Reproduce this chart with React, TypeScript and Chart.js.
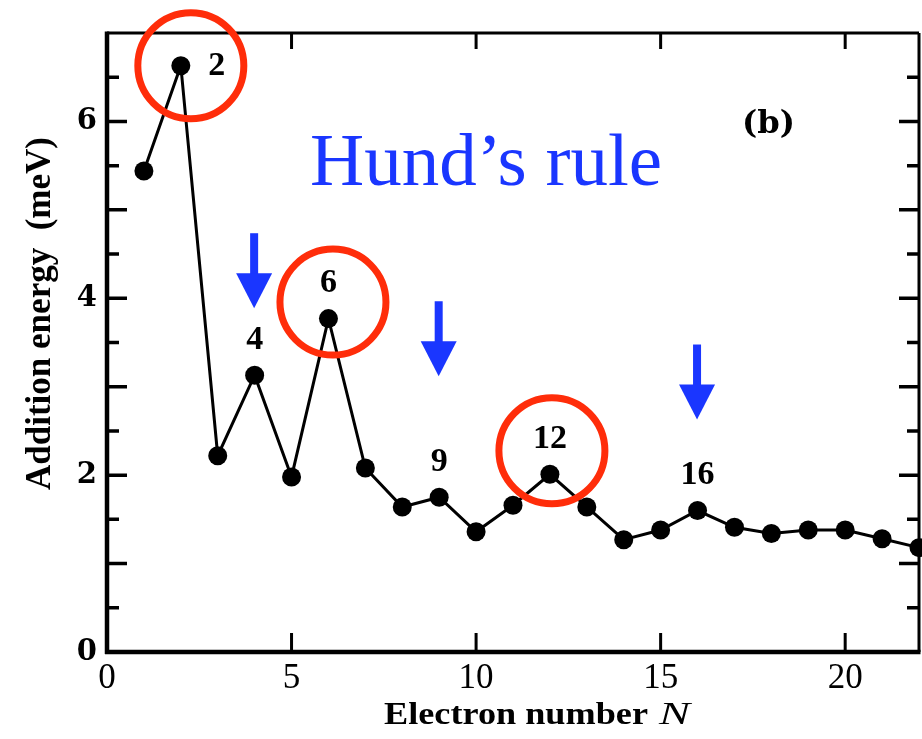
import React, { useEffect, useRef } from "react";
import { Chart, registerables } from "chart.js";

Chart.register(...registerables);

// ---- data ----
const electronNumbers = [1, 2, 3, 4, 5, 6, 7, 8, 9, 10, 11, 12, 13, 14, 15, 16, 17, 18, 19, 20, 21, 22];
const additionEnergy = [5.44, 6.63, 2.22, 3.13, 1.98, 3.77, 2.08, 1.64, 1.75, 1.36, 1.66, 2.01, 1.64, 1.27, 1.38, 1.6, 1.41, 1.34, 1.38, 1.38, 1.28, 1.18];
const xTickValues = [0, 5, 10, 15, 20];
const yTickValues = [0, 2, 4, 6];
const yMinorTickValues = [0.5, 1, 1.5, 2, 2.5, 3, 3.5, 4, 4.5, 5, 5.5, 6, 6.5];
const peakLabels = [2, 4, 6, 9, 12, 16];
const circledPeaks = [2, 6, 12];
const hundArrows = [4, 9, 16];

const xTitle = "Electron number";
const xTitleSymbol = "N";
const yTitle = "Addition energy  (meV)";
const annotationText = "Hund\u2019s rule";
const panelLabel = "(b)";

// ---- styles (pixel offsets / sizes) ----
const circleOffsets: Record<number, { dx: number; dy: number }> = {
  2: { dx: 10, dy: 0 },
  6: { dx: 4.5, dy: -16.5 },
  12: { dx: 2, dy: -23.5 },
};
const arrowTipOffsets: Record<number, number> = { 4: -67, 9: -121, 16: -91 };
const BLUE = "#1a36ff";
const RED = "#ff2d0a";

function fitText(
  ctx: CanvasRenderingContext2D,
  text: string,
  x: number,
  y: number,
  font: string,
  width: number,
  color: string
) {
  ctx.save();
  ctx.font = font;
  const w = ctx.measureText(text).width;
  ctx.translate(x, y);
  ctx.scale(width / w, 1);
  ctx.textAlign = "left";
  ctx.textBaseline = "alphabetic";
  ctx.fillStyle = color;
  ctx.fillText(text, 0, 0);
  ctx.restore();
}

const overlayPlugin = {
  id: "overlay",
  afterDatasetsDraw(chart: any) {
    const ctx: CanvasRenderingContext2D = chart.ctx;
    const ca = chart.chartArea;
    const xs = chart.scales.x;
    const ys = chart.scales.y;
    const meta = chart.getDatasetMeta(0);
    const pt = (n: number) => {
      const i = electronNumbers.indexOf(n);
      const el = meta.data[i];
      return { x: el.x, y: el.y };
    };

    ctx.save();
    ctx.strokeStyle = "#000";
    ctx.lineCap = "butt";

    // frame
    ctx.lineWidth = 3;
    ctx.beginPath();
    ctx.moveTo(ca.left, ca.top);
    ctx.lineTo(ca.right, ca.top);
    ctx.moveTo(ca.right, ca.top);
    ctx.lineTo(ca.right, ca.bottom);
    ctx.stroke();
    ctx.lineWidth = 4.5;
    ctx.beginPath();
    ctx.moveTo(ca.left, ca.top - 1.5);
    ctx.lineTo(ca.left, ca.bottom + 2);
    ctx.moveTo(ca.left - 2, ca.bottom);
    ctx.lineTo(ca.right + 1.5, ca.bottom);
    ctx.stroke();

    // y ticks (inward, both sides)
    ctx.lineWidth = 3.5;
    ctx.beginPath();
    yMinorTickValues.forEach((v) => {
      const py = ys.getPixelForValue(v);
      const len = Number.isInteger(v) ? 20 : 12;
      ctx.moveTo(ca.left, py);
      ctx.lineTo(ca.left + len, py);
      ctx.moveTo(ca.right, py);
      ctx.lineTo(ca.right - len, py);
    });
    ctx.stroke();

    // x ticks (inward, bottom and top)
    ctx.lineWidth = 3;
    ctx.beginPath();
    xTickValues.forEach((v) => {
      if (v === 0) return;
      const px = xs.getPixelForValue(v);
      ctx.moveTo(px, ca.bottom);
      ctx.lineTo(px, ca.bottom - 19);
      ctx.moveTo(px, ca.top);
      ctx.lineTo(px, ca.top + 16);
    });
    ctx.stroke();

    // peak labels
    ctx.fillStyle = "#000";
    ctx.font = "bold 34px 'Liberation Serif'";
    ctx.textBaseline = "middle";
    ctx.textAlign = "center";
    peakLabels.forEach((n, k) => {
      const p = pt(n);
      if (k === 0) {
        ctx.fillText(String(n), p.x + 36, p.y + 1);
      } else {
        ctx.fillText(String(n), p.x, p.y - 35);
      }
    });

    // red circles
    ctx.strokeStyle = RED;
    ctx.lineWidth = 7;
    circledPeaks.forEach((n) => {
      const p = pt(n);
      const o = circleOffsets[n];
      ctx.beginPath();
      ctx.arc(p.x + o.dx, p.y + o.dy, 53, 0, Math.PI * 2);
      ctx.stroke();
    });

    // blue arrows
    ctx.fillStyle = BLUE;
    hundArrows.forEach((n) => {
      const p = pt(n);
      const tipY = p.y + arrowTipOffsets[n];
      const x0 = p.x - 0.5;
      ctx.fillRect(x0 - 4, tipY - 75, 8, 41);
      ctx.beginPath();
      ctx.moveTo(x0 - 18, tipY - 35);
      ctx.lineTo(x0 + 18, tipY - 35);
      ctx.lineTo(x0, tipY);
      ctx.closePath();
      ctx.fill();
    });

    // Hund's rule text
    fitText(ctx, annotationText, 310, 185, "75px 'Liberation Serif'", 352, BLUE);
    // panel label
    fitText(ctx, panelLabel, 742, 133, "bold 31px 'DejaVu Serif'", 53, "#000");

    // axis titles
    fitText(ctx, xTitle, 384, 724, "bold 32px 'Liberation Serif'", 264, "#000");
    fitText(ctx, xTitleSymbol, 659, 724, "italic 32px 'Liberation Serif'", 31, "#000");

    ctx.save();
    ctx.translate(50, 490);
    ctx.rotate(-Math.PI / 2);
    fitText(ctx, yTitle, 0, 0, "bold 36px 'Liberation Serif'", 353, "#000");
    ctx.restore();

    ctx.restore();
  },
};

export default function App() {
  const canvasRef = useRef<HTMLCanvasElement | null>(null);

  useEffect(() => {
    if (!canvasRef.current) return;
    const chart = new Chart(canvasRef.current, {
      type: "line",
      data: {
        datasets: [
          {
            data: electronNumbers.map((n, i) => ({ x: n, y: additionEnergy[i] })),
            borderColor: "#000",
            backgroundColor: "#000",
            borderWidth: 3,
            pointRadius: 9.5,
            pointHoverRadius: 9.5,
            pointBackgroundColor: "#000",
            pointBorderWidth: 0,
            tension: 0,
            clip: false as any,
          },
        ],
      },
      options: {
        animation: false,
        responsive: false,
        devicePixelRatio: 1,
        layout: { autoPadding: false, padding: { top: 33, right: 3, left: 0, bottom: 0 } },
        plugins: {
          legend: { display: false },
          tooltip: { enabled: false },
          title: { display: false },
        },
        scales: {
          x: {
            type: "linear",
            min: 0,
            max: 22,
            grid: { display: false, drawTicks: false },
            border: { display: false },
            afterBuildTicks: (scale: any) => {
              scale.ticks = xTickValues.map((v) => ({ value: v }));
            },
            afterFit: (scale: any) => {
              scale.height = 87;
            },
            ticks: {
              autoSkip: false,
              maxRotation: 0,
              padding: 6,
              color: "#000",
              font: { family: "'Liberation Serif'", size: 35 },
              callback: (v: any) => String(v),
            },
          },
          y: {
            type: "linear",
            min: 0,
            max: 7,
            grid: { display: false, drawTicks: false },
            border: { display: false },
            afterBuildTicks: (scale: any) => {
              scale.ticks = yTickValues.map((v) => ({ value: v }));
            },
            afterFit: (scale: any) => {
              scale.width = 107;
            },
            ticks: {
              autoSkip: false,
              padding: 10,
              color: "#000",
              font: { family: "'DejaVu Serif'", size: 29, weight: "bold" },
              callback: (v: any) => String(v),
            },
          },
        },
      },
      plugins: [overlayPlugin],
    });
    return () => chart.destroy();
  }, []);

  return (
    <div style={{ position: "absolute", left: 0, top: 0, width: 922, height: 739, background: "#fff" }}>
      <canvas ref={canvasRef} width={922} height={739} style={{ display: "block" }} />
    </div>
  );
}
